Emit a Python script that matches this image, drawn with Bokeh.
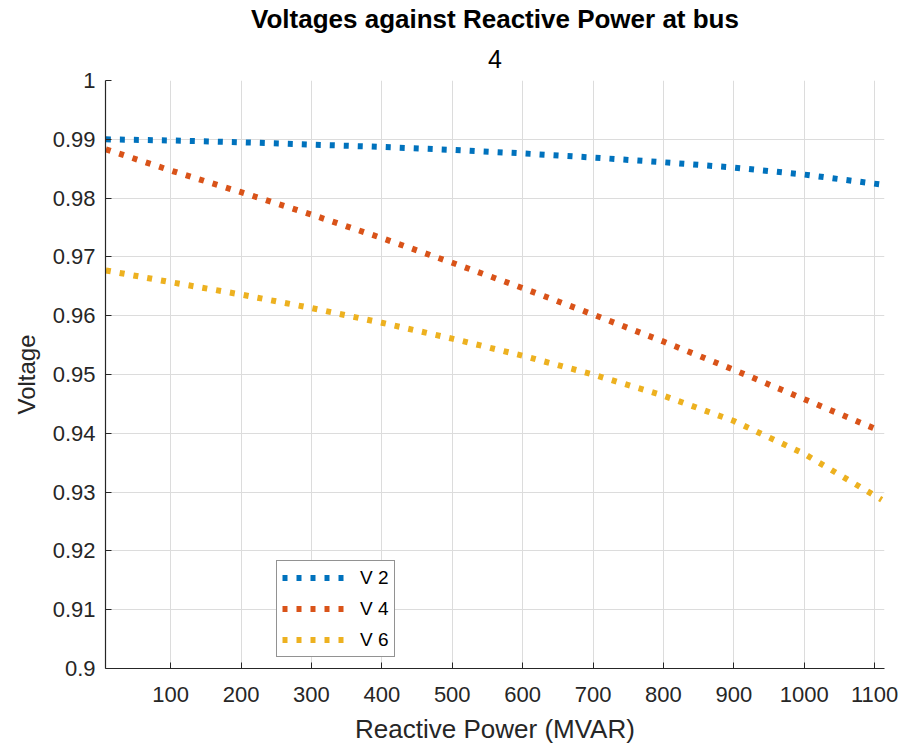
from bokeh.plotting import figure
from bokeh.models import FixedTicker, NumeralTickFormatter, Title, Legend, LegendItem, Range1d
from bokeh.embed import file_html
from bokeh.resources import INLINE

q = [8, 100, 200, 300, 400, 500, 600, 700, 800, 900, 1000, 1110]
v2 = [0.9900, 0.9898, 0.9895, 0.9891, 0.9887, 0.9882, 0.9876, 0.9869, 0.9861, 0.9852, 0.9840, 0.9823]
v4 = [0.9883, 0.9847, 0.9810, 0.9772, 0.9732, 0.9690, 0.9647, 0.9602, 0.9556, 0.9508, 0.9458, 0.9403]
v6 = [0.9677, 0.9657, 0.9636, 0.9613, 0.9588, 0.9561, 0.9532, 0.9500, 0.9464, 0.9421, 0.9365, 0.9287]
x_ticks = [100, 200, 300, 400, 500, 600, 700, 800, 900, 1000, 1100]
y_ticks = [0.9, 0.91, 0.92, 0.93, 0.94, 0.95, 0.96, 0.97, 0.98, 0.99, 1.0]
names = ["V 2", "V 4", "V 6"]
colors = ["#0072BD", "#D95319", "#EDB120"]

FONT = "Liberation Sans"
TXT = "#262626"

p = figure(frame_width=779, frame_height=588, output_backend="svg", toolbar_location=None,
           x_range=Range1d(7.5, 1114), y_range=Range1d(0.9, 1.0),
           min_border_left=105, min_border_top=80, min_border_right=22, min_border_bottom=80,
           title=None, background_fill_color="white", border_fill_color="white")
p.outline_line_color = None

p.add_layout(Title(text="4", text_font=FONT, text_font_size="25px", text_font_style="normal",
                   text_color="black", align="center", standoff=25), "above")
p.add_layout(Title(text="Voltages against Reactive Power at bus", text_font=FONT,
                   text_font_size="26px", text_font_style="bold", text_color="black",
                   align="center", standoff=3), "above")

items = []
for ys, c, n in zip([v2, v4, v6], colors, names):
    r = p.line(q, ys, line_color=c, line_width=6, line_dash="5 9", line_cap="butt")
    items.append(LegendItem(label=n, renderers=[r]))

for ax in (p.xaxis[0], p.yaxis[0]):
    ax.axis_line_color = TXT
    ax.axis_line_width = 1.2
    ax.major_tick_line_color = TXT
    ax.major_tick_in = 6
    ax.major_tick_out = 0
    ax.minor_tick_line_color = None
    ax.major_label_text_font = FONT
    ax.major_label_text_font_size = "22px"
    ax.major_label_text_color = TXT
    ax.axis_label_text_font = FONT
    ax.axis_label_text_font_style = "normal"
    ax.axis_label_text_color = TXT

p.xaxis.ticker = FixedTicker(ticks=x_ticks)
p.yaxis.ticker = FixedTicker(ticks=y_ticks)
p.yaxis.formatter = NumeralTickFormatter(format="0.[00]")
p.xaxis.axis_label = "Reactive Power (MVAR)"
p.yaxis.axis_label = "Voltage"
p.xaxis.axis_label_text_font_size = "26px"
p.yaxis.axis_label_text_font_size = "24px"
p.xaxis.major_label_standoff = 18
p.yaxis.major_label_standoff = 10
p.xaxis.axis_label_standoff = 9
p.yaxis.axis_label_standoff = 10

p.xgrid.grid_line_color = "#dcdcdc"
p.ygrid.grid_line_color = "#dcdcdc"
p.xgrid.grid_line_width = 1
p.ygrid.grid_line_width = 1

legend = Legend(items=items, location=(171, 11), label_text_font=FONT, label_text_font_size="19px",
                label_text_color="black", glyph_width=66, glyph_height=23, label_standoff=12,
                spacing=8, padding=5, margin=0, border_line_color="#262626", border_line_width=1,
                background_fill_color="white", background_fill_alpha=1)
p.add_layout(legend)

open("out.html", "w").write(file_html(p, INLINE))
